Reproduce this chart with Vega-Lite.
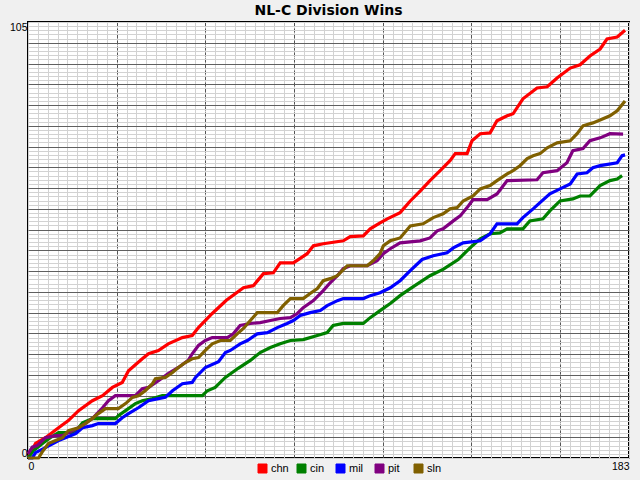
{
  "$schema": "https://vega.github.io/schema/vega-lite/v6.json",
  "width": 601,
  "height": 436,
  "autosize": {"type": "pad"},
  "padding": {"left": 9, "top": 4, "right": 11, "bottom": 5},
  "background": "#f0f0f0",
  "title": {
    "text": "NL-C Division Wins",
    "fontSize": 14,
    "fontWeight": "bold",
    "font": "DejaVu Sans",
    "color": "#000000",
    "anchor": "middle",
    "offset": 3
  },
  "config": {
    "font": "Liberation Sans",
    "view": {"fill": "#ffffff", "stroke": "#000000", "strokeWidth": 2}
  },
  "data": {
    "values": [
      {"team": "chn", "day": 0, "wins": 0}, {"team": "chn", "day": 2.3, "wins": 3.5}, {"team": "chn", "day": 5.3, "wins": 4.9},
      {"team": "chn", "day": 9.3, "wins": 7.3}, {"team": "chn", "day": 12.3, "wins": 9}, {"team": "chn", "day": 15.4, "wins": 11.4},
      {"team": "chn", "day": 19.6, "wins": 13.8}, {"team": "chn", "day": 22.7, "wins": 15}, {"team": "chn", "day": 25.7, "wins": 17},
      {"team": "chn", "day": 28.7, "wins": 18.2}, {"team": "chn", "day": 30.6, "wins": 21}, {"team": "chn", "day": 34.8, "wins": 23.9},
      {"team": "chn", "day": 36.7, "wins": 25.1}, {"team": "chn", "day": 39.7, "wins": 25.9}, {"team": "chn", "day": 42.7, "wins": 27.5},
      {"team": "chn", "day": 47, "wins": 29}, {"team": "chn", "day": 50, "wins": 29.5}, {"team": "chn", "day": 51.9, "wins": 31.4},
      {"team": "chn", "day": 56.1, "wins": 34.8}, {"team": "chn", "day": 60.4, "wins": 38}, {"team": "chn", "day": 65.6, "wins": 41},
      {"team": "chn", "day": 68.6, "wins": 41.5}, {"team": "chn", "day": 71.7, "wins": 44.4}, {"team": "chn", "day": 74.7, "wins": 44.6},
      {"team": "chn", "day": 76.8, "wins": 47}, {"team": "chn", "day": 80.8, "wins": 47}, {"team": "chn", "day": 85, "wins": 49.2},
      {"team": "chn", "day": 86.9, "wins": 51.1}, {"team": "chn", "day": 89.9, "wins": 51.6}, {"team": "chn", "day": 96, "wins": 52.3},
      {"team": "chn", "day": 98.1, "wins": 53.3}, {"team": "chn", "day": 102.1, "wins": 53.5}, {"team": "chn", "day": 104.2, "wins": 55.2},
      {"team": "chn", "day": 107.2, "wins": 56.6}, {"team": "chn", "day": 109.4, "wins": 57.6}, {"team": "chn", "day": 113.3, "wins": 59.1},
      {"team": "chn", "day": 116.4, "wins": 61.9}, {"team": "chn", "day": 119.4, "wins": 64.3}, {"team": "chn", "day": 122.4, "wins": 66.8},
      {"team": "chn", "day": 125.5, "wins": 69.2}, {"team": "chn", "day": 128.5, "wins": 71.6}, {"team": "chn", "day": 130.1, "wins": 73.3},
      {"team": "chn", "day": 133.7, "wins": 73.3}, {"team": "chn", "day": 135.2, "wins": 76.4}, {"team": "chn", "day": 137.7, "wins": 78.1},
      {"team": "chn", "day": 140.7, "wins": 78.3}, {"team": "chn", "day": 142.8, "wins": 81.2}, {"team": "chn", "day": 145.9, "wins": 82.4},
      {"team": "chn", "day": 147.7, "wins": 82.9}, {"team": "chn", "day": 150.7, "wins": 86.5}, {"team": "chn", "day": 155, "wins": 89.1},
      {"team": "chn", "day": 158.1, "wins": 89.4}, {"team": "chn", "day": 161.1, "wins": 91.5}, {"team": "chn", "day": 165.1, "wins": 93.9},
      {"team": "chn", "day": 168.1, "wins": 94.7}, {"team": "chn", "day": 171.1, "wins": 96.8}, {"team": "chn", "day": 174.2, "wins": 98.5},
      {"team": "chn", "day": 176.3, "wins": 100.9}, {"team": "chn", "day": 179.4, "wins": 101.4}, {"team": "chn", "day": 181.8, "wins": 103},

      {"team": "cin", "day": 0, "wins": 0}, {"team": "cin", "day": 1.7, "wins": 1.8}, {"team": "cin", "day": 4.7, "wins": 3.7},
      {"team": "cin", "day": 6.8, "wins": 4.9}, {"team": "cin", "day": 9.3, "wins": 6.1}, {"team": "cin", "day": 13.5, "wins": 6.1},
      {"team": "cin", "day": 15.4, "wins": 7.3}, {"team": "cin", "day": 16.6, "wins": 8.5}, {"team": "cin", "day": 19.6, "wins": 9.5},
      {"team": "cin", "day": 26.6, "wins": 9.5}, {"team": "cin", "day": 27.5, "wins": 10.2}, {"team": "cin", "day": 29.7, "wins": 11.4},
      {"team": "cin", "day": 32.7, "wins": 13.1}, {"team": "cin", "day": 34.8, "wins": 13.8}, {"team": "cin", "day": 37.9, "wins": 14.3},
      {"team": "cin", "day": 40.9, "wins": 15}, {"team": "cin", "day": 53.1, "wins": 15}, {"team": "cin", "day": 54.6, "wins": 16.2},
      {"team": "cin", "day": 57, "wins": 17}, {"team": "cin", "day": 60.1, "wins": 19.4}, {"team": "cin", "day": 64, "wins": 21.6},
      {"team": "cin", "day": 67.7, "wins": 23.5}, {"team": "cin", "day": 70.7, "wins": 25.4}, {"team": "cin", "day": 73.8, "wins": 26.6},
      {"team": "cin", "day": 76.8, "wins": 27.5}, {"team": "cin", "day": 79.9, "wins": 28.3}, {"team": "cin", "day": 83.8, "wins": 28.5},
      {"team": "cin", "day": 88.1, "wins": 29.5}, {"team": "cin", "day": 91.1, "wins": 30.2}, {"team": "cin", "day": 92.9, "wins": 31.9},
      {"team": "cin", "day": 96, "wins": 32.4}, {"team": "cin", "day": 102.1, "wins": 32.4}, {"team": "cin", "day": 104.2, "wins": 33.8},
      {"team": "cin", "day": 107.2, "wins": 35.5}, {"team": "cin", "day": 110.3, "wins": 37.2}, {"team": "cin", "day": 113.3, "wins": 39.1},
      {"team": "cin", "day": 116.4, "wins": 40.8}, {"team": "cin", "day": 122.4, "wins": 43.9}, {"team": "cin", "day": 126.5, "wins": 45.5},
      {"team": "cin", "day": 131, "wins": 47.8}, {"team": "cin", "day": 134.6, "wins": 50.6}, {"team": "cin", "day": 137.7, "wins": 52.8},
      {"team": "cin", "day": 140.7, "wins": 54}, {"team": "cin", "day": 143.7, "wins": 54.2}, {"team": "cin", "day": 145.9, "wins": 55.2},
      {"team": "cin", "day": 150.7, "wins": 55.2}, {"team": "cin", "day": 152.8, "wins": 57.1}, {"team": "cin", "day": 156.8, "wins": 57.6},
      {"team": "cin", "day": 158.9, "wins": 59.5}, {"team": "cin", "day": 162, "wins": 61.9}, {"team": "cin", "day": 165.9, "wins": 62.4},
      {"team": "cin", "day": 168.1, "wins": 63.1}, {"team": "cin", "day": 171.1, "wins": 63.1}, {"team": "cin", "day": 174.2, "wins": 65.6},
      {"team": "cin", "day": 177.2, "wins": 66.8}, {"team": "cin", "day": 179.4, "wins": 67.2}, {"team": "cin", "day": 180.9, "wins": 68},

      {"team": "mil", "day": 0, "wins": 0}, {"team": "mil", "day": 1.3, "wins": 0}, {"team": "mil", "day": 2.3, "wins": 1.3},
      {"team": "mil", "day": 5.3, "wins": 2.5}, {"team": "mil", "day": 9.3, "wins": 4.2}, {"team": "mil", "day": 11.4, "wins": 4.9},
      {"team": "mil", "day": 14.5, "wins": 5.9}, {"team": "mil", "day": 16.6, "wins": 7.3}, {"team": "mil", "day": 19.6, "wins": 7.8},
      {"team": "mil", "day": 21.4, "wins": 8.3}, {"team": "mil", "day": 26.6, "wins": 8.3}, {"team": "mil", "day": 28.7, "wins": 9.7},
      {"team": "mil", "day": 30.6, "wins": 10.7}, {"team": "mil", "day": 33.6, "wins": 12.1}, {"team": "mil", "day": 36.7, "wins": 13.8},
      {"team": "mil", "day": 39.7, "wins": 14.3}, {"team": "mil", "day": 41.8, "wins": 14.6}, {"team": "mil", "day": 44, "wins": 16.2},
      {"team": "mil", "day": 47, "wins": 17.9}, {"team": "mil", "day": 50, "wins": 18.2}, {"team": "mil", "day": 51, "wins": 19.4},
      {"team": "mil", "day": 54, "wins": 21.8}, {"team": "mil", "day": 58, "wins": 23.2}, {"team": "mil", "day": 60.1, "wins": 25.4},
      {"team": "mil", "day": 61.6, "wins": 25.9}, {"team": "mil", "day": 64.6, "wins": 27.5}, {"team": "mil", "day": 66.8, "wins": 28.3},
      {"team": "mil", "day": 69.8, "wins": 29.9}, {"team": "mil", "day": 72.9, "wins": 30.2}, {"team": "mil", "day": 75.9, "wins": 31.4},
      {"team": "mil", "day": 78.9, "wins": 32.4}, {"team": "mil", "day": 80.8, "wins": 33.1}, {"team": "mil", "day": 82.9, "wins": 34.3},
      {"team": "mil", "day": 85.9, "wins": 35}, {"team": "mil", "day": 89, "wins": 35.5}, {"team": "mil", "day": 91.1, "wins": 36.7},
      {"team": "mil", "day": 94.2, "wins": 37.9}, {"team": "mil", "day": 96, "wins": 38.4}, {"team": "mil", "day": 102.1, "wins": 38.4},
      {"team": "mil", "day": 104.2, "wins": 39.1}, {"team": "mil", "day": 107.2, "wins": 39.8}, {"team": "mil", "day": 110.3, "wins": 41},
      {"team": "mil", "day": 113.3, "wins": 42.7}, {"team": "mil", "day": 116.4, "wins": 45.1}, {"team": "mil", "day": 120, "wins": 47.8},
      {"team": "mil", "day": 123.4, "wins": 48.7}, {"team": "mil", "day": 127.6, "wins": 49.4}, {"team": "mil", "day": 129.5, "wins": 50.6},
      {"team": "mil", "day": 132.5, "wins": 51.8}, {"team": "mil", "day": 137.7, "wins": 52.3}, {"team": "mil", "day": 140.7, "wins": 54},
      {"team": "mil", "day": 142.8, "wins": 56.4}, {"team": "mil", "day": 148.9, "wins": 56.4}, {"team": "mil", "day": 150.7, "wins": 57.9},
      {"team": "mil", "day": 153.8, "wins": 60}, {"team": "mil", "day": 155.9, "wins": 61.5}, {"team": "mil", "day": 158.9, "wins": 63.6},
      {"team": "mil", "day": 162, "wins": 64.8}, {"team": "mil", "day": 165.1, "wins": 66}, {"team": "mil", "day": 167.2, "wins": 68.4},
      {"team": "mil", "day": 170.2, "wins": 68.7}, {"team": "mil", "day": 172, "wins": 69.9}, {"team": "mil", "day": 174.2, "wins": 70.4},
      {"team": "mil", "day": 179.4, "wins": 71.1}, {"team": "mil", "day": 180.9, "wins": 72.8}, {"team": "mil", "day": 181.8, "wins": 73},

      {"team": "pit", "day": 0, "wins": 1}, {"team": "pit", "day": 1.3, "wins": 2.6}, {"team": "pit", "day": 2.8, "wins": 3},
      {"team": "pit", "day": 5.3, "wins": 4.9}, {"team": "pit", "day": 8.4, "wins": 5.4}, {"team": "pit", "day": 10.5, "wins": 5.4},
      {"team": "pit", "day": 15.4, "wins": 7.3}, {"team": "pit", "day": 17.5, "wins": 8.3}, {"team": "pit", "day": 19.6, "wins": 9.5},
      {"team": "pit", "day": 22.7, "wins": 12.1}, {"team": "pit", "day": 24.5, "wins": 13.8}, {"team": "pit", "day": 26.6, "wins": 15},
      {"team": "pit", "day": 32.7, "wins": 15}, {"team": "pit", "day": 34.8, "wins": 16.7}, {"team": "pit", "day": 36.7, "wins": 17},
      {"team": "pit", "day": 39.7, "wins": 18.6}, {"team": "pit", "day": 42.7, "wins": 20.3}, {"team": "pit", "day": 45.8, "wins": 21.8},
      {"team": "pit", "day": 48.8, "wins": 23.5}, {"team": "pit", "day": 50, "wins": 25.1}, {"team": "pit", "day": 51.9, "wins": 27.1},
      {"team": "pit", "day": 54, "wins": 28.3}, {"team": "pit", "day": 56.1, "wins": 29}, {"team": "pit", "day": 60.7, "wins": 29},
      {"team": "pit", "day": 62.5, "wins": 29.9}, {"team": "pit", "day": 64.6, "wins": 31.9}, {"team": "pit", "day": 67.7, "wins": 32.4},
      {"team": "pit", "day": 70.7, "wins": 32.6}, {"team": "pit", "day": 73.8, "wins": 33.1}, {"team": "pit", "day": 76.8, "wins": 33.6},
      {"team": "pit", "day": 79.9, "wins": 33.8}, {"team": "pit", "day": 82, "wins": 34.8}, {"team": "pit", "day": 83.8, "wins": 36.2},
      {"team": "pit", "day": 86.9, "wins": 37.9}, {"team": "pit", "day": 89.9, "wins": 40.3}, {"team": "pit", "day": 92, "wins": 42.2},
      {"team": "pit", "day": 94.2, "wins": 43.9}, {"team": "pit", "day": 96, "wins": 45.6}, {"team": "pit", "day": 98.1, "wins": 46.3},
      {"team": "pit", "day": 103.3, "wins": 46.3}, {"team": "pit", "day": 106.3, "wins": 47.5}, {"team": "pit", "day": 108.2, "wins": 49.2},
      {"team": "pit", "day": 110.3, "wins": 50.4}, {"team": "pit", "day": 113.3, "wins": 51.8}, {"team": "pit", "day": 119.4, "wins": 52.3},
      {"team": "pit", "day": 122.4, "wins": 53}, {"team": "pit", "day": 124.6, "wins": 54.7}, {"team": "pit", "day": 126.4, "wins": 55.2},
      {"team": "pit", "day": 129.5, "wins": 57.1}, {"team": "pit", "day": 131.6, "wins": 58.3}, {"team": "pit", "day": 133.7, "wins": 60.3},
      {"team": "pit", "day": 135.5, "wins": 62.2}, {"team": "pit", "day": 139.8, "wins": 62.2}, {"team": "pit", "day": 142.8, "wins": 63.6},
      {"team": "pit", "day": 145.9, "wins": 66.8}, {"team": "pit", "day": 155, "wins": 67}, {"team": "pit", "day": 156.8, "wins": 68.7},
      {"team": "pit", "day": 161.1, "wins": 69.2}, {"team": "pit", "day": 164.1, "wins": 71.1}, {"team": "pit", "day": 165.9, "wins": 74},
      {"team": "pit", "day": 169, "wins": 74.5}, {"team": "pit", "day": 171.1, "wins": 76.4}, {"team": "pit", "day": 174.2, "wins": 77.1},
      {"team": "pit", "day": 177.2, "wins": 78.1}, {"team": "pit", "day": 181.2, "wins": 78},

      {"team": "sln", "day": 0, "wins": 0}, {"team": "sln", "day": 3.2, "wins": 0}, {"team": "sln", "day": 4.3, "wins": 1.4},
      {"team": "sln", "day": 6.2, "wins": 3.5}, {"team": "sln", "day": 8.4, "wins": 4.2}, {"team": "sln", "day": 10.5, "wins": 4.9},
      {"team": "sln", "day": 12.3, "wins": 6.6}, {"team": "sln", "day": 15.4, "wins": 7.3}, {"team": "sln", "day": 17.5, "wins": 8.3},
      {"team": "sln", "day": 19.6, "wins": 9.5}, {"team": "sln", "day": 21.4, "wins": 10.7}, {"team": "sln", "day": 23.6, "wins": 11.9},
      {"team": "sln", "day": 27.5, "wins": 11.9}, {"team": "sln", "day": 29.7, "wins": 13.1}, {"team": "sln", "day": 31.8, "wins": 14.6},
      {"team": "sln", "day": 33.6, "wins": 15}, {"team": "sln", "day": 35.7, "wins": 16.2}, {"team": "sln", "day": 37.9, "wins": 17.9},
      {"team": "sln", "day": 38.8, "wins": 19.1}, {"team": "sln", "day": 41.8, "wins": 19.4}, {"team": "sln", "day": 44, "wins": 20.6},
      {"team": "sln", "day": 45.8, "wins": 21.8}, {"team": "sln", "day": 47.9, "wins": 23}, {"team": "sln", "day": 50, "wins": 23.9},
      {"team": "sln", "day": 51.9, "wins": 24.2}, {"team": "sln", "day": 54, "wins": 25.9}, {"team": "sln", "day": 56.1, "wins": 27.5},
      {"team": "sln", "day": 58.6, "wins": 28.3}, {"team": "sln", "day": 61.6, "wins": 28.3}, {"team": "sln", "day": 63.7, "wins": 29.9},
      {"team": "sln", "day": 65.6, "wins": 31.2}, {"team": "sln", "day": 67.7, "wins": 33.1}, {"team": "sln", "day": 69.8, "wins": 35},
      {"team": "sln", "day": 75.9, "wins": 35}, {"team": "sln", "day": 77.7, "wins": 36.7}, {"team": "sln", "day": 79.9, "wins": 38.4},
      {"team": "sln", "day": 83.8, "wins": 38.4}, {"team": "sln", "day": 85.9, "wins": 39.6}, {"team": "sln", "day": 88.1, "wins": 40.8},
      {"team": "sln", "day": 89.9, "wins": 42.7}, {"team": "sln", "day": 92, "wins": 43.2}, {"team": "sln", "day": 94.2, "wins": 43.9},
      {"team": "sln", "day": 97.2, "wins": 46.3}, {"team": "sln", "day": 103.3, "wins": 46.3}, {"team": "sln", "day": 105.1, "wins": 47.5},
      {"team": "sln", "day": 107.2, "wins": 49.2}, {"team": "sln", "day": 108.2, "wins": 51.1}, {"team": "sln", "day": 110.3, "wins": 52.3},
      {"team": "sln", "day": 113.3, "wins": 53}, {"team": "sln", "day": 116.4, "wins": 55.9}, {"team": "sln", "day": 120.3, "wins": 56.4},
      {"team": "sln", "day": 123.4, "wins": 57.9}, {"team": "sln", "day": 126.4, "wins": 58.8}, {"team": "sln", "day": 128.5, "wins": 60},
      {"team": "sln", "day": 130.7, "wins": 60.3}, {"team": "sln", "day": 132.5, "wins": 61.9}, {"team": "sln", "day": 135.5, "wins": 63.1},
      {"team": "sln", "day": 137.7, "wins": 64.8}, {"team": "sln", "day": 140.7, "wins": 65.6}, {"team": "sln", "day": 142.8, "wins": 66.8},
      {"team": "sln", "day": 145.9, "wins": 68.4}, {"team": "sln", "day": 147.7, "wins": 69.2}, {"team": "sln", "day": 149.8, "wins": 70.4},
      {"team": "sln", "day": 152, "wins": 72.1}, {"team": "sln", "day": 153.8, "wins": 72.8}, {"team": "sln", "day": 155.9, "wins": 73.3},
      {"team": "sln", "day": 158.1, "wins": 74.7}, {"team": "sln", "day": 161.1, "wins": 75.9}, {"team": "sln", "day": 165.1, "wins": 76.4},
      {"team": "sln", "day": 167.2, "wins": 78.1}, {"team": "sln", "day": 169, "wins": 80}, {"team": "sln", "day": 172, "wins": 80.7},
      {"team": "sln", "day": 174.2, "wins": 81.4}, {"team": "sln", "day": 177.2, "wins": 82.4}, {"team": "sln", "day": 179.4, "wins": 83.6},
      {"team": "sln", "day": 181.8, "wins": 86}
    ]
  },
  "resolve": {"axis": {"x": "independent", "y": "independent"}},
  "layer": [
    {
      "mark": {"type": "line", "opacity": 0},
      "encoding": {
        "x": {
          "field": "day",
          "type": "quantitative",
          "scale": {"domain": [0, 183], "nice": false, "zero": false},
          "axis": {
            "orient": "bottom",
            "title": null,
            "values": [0, 3, 6, 9, 12, 15, 18, 21, 24, 27, 30, 33, 36, 39, 42, 45, 48, 51, 54, 57, 60, 63, 66, 69, 72, 75, 78, 81, 84, 87, 90, 93, 96, 99, 102, 105, 108, 111, 114, 117, 120, 123, 126, 129, 132, 135, 138, 141, 144, 147, 150, 153, 156, 159, 162, 165, 168, 171, 174, 177, 180, 183],
            "grid": true,
            "gridColor": "#d2d2d2",
            "gridOpacity": 1,
            "gridWidth": 1,
            "ticks": false,
            "domain": false,
            "labelFlush": true,
            "labelOverlap": false,
            "labelExpr": "datum.value == 0 || datum.value == 183 ? datum.label : ''",
            "labelPadding": 3,
            "labelFontSize": 10.5,
            "labelColor": "#000000"
          }
        },
        "y": {
          "field": "wins",
          "type": "quantitative",
          "scale": {"domain": [0, 105], "nice": false, "zero": false},
          "axis": {
            "orient": "left",
            "title": null,
            "tickCount": 105,
            "grid": true,
            "gridColor": "#d2d2d2",
            "gridOpacity": 1,
            "gridWidth": 1,
            "ticks": false,
            "domain": false,
            "labelFlush": true,
            "labelOverlap": false,
            "labelExpr": "datum.value == 0 || datum.value == 105 ? datum.label : ''",
            "labelPadding": 1,
            "labelFontSize": 10.5,
            "labelColor": "#000000"
          }
        },
        "detail": {"field": "team", "type": "nominal"}
      }
    },
    {
      "mark": {"type": "line", "strokeWidth": 3.2},
      "encoding": {
        "x": {
          "field": "day",
          "type": "quantitative",
          "scale": {"domain": [0, 183], "nice": false, "zero": false},
          "axis": {
            "orient": "bottom",
            "title": null,
            "values": [27, 54, 81, 108, 135, 162],
            "grid": true,
            "gridColor": "#555555",
            "gridOpacity": 1,
            "gridDash": [4, 2],
            "labels": false,
            "ticks": false,
            "domain": false
          }
        },
        "y": {
          "field": "wins",
          "type": "quantitative",
          "scale": {"domain": [0, 105], "nice": false, "zero": false},
          "axis": {
            "orient": "left",
            "title": null,
            "values": [5, 10, 15, 20, 25, 30, 35, 40, 45, 50, 55, 60, 65, 70, 75, 80, 85, 90, 95, 100],
            "grid": true,
            "gridColor": "#606060",
            "gridOpacity": 1,
            "labels": false,
            "ticks": false,
            "domain": false
          }
        },
        "color": {
          "field": "team",
          "type": "nominal",
          "scale": {
            "domain": ["chn", "cin", "mil", "pit", "sln"],
            "range": ["#ff0000", "#008000", "#0000ff", "#800080", "#806000"]
          },
          "legend": {
            "title": null,
            "orient": "none",
            "direction": "horizontal",
            "legendX": 229,
            "legendY": 441,
            "symbolType": "square",
            "symbolSize": 81,
            "labelFontSize": 11,
            "labelColor": "#000000",
            "labelOffset": 3,
            "columnPadding": 6,
            "gridAlign": "all",
            "encode": {
              "symbols": {
                "update": {
                  "fill": {"scale": "color", "field": "value"},
                  "stroke": {"value": "#000000"},
                  "strokeWidth": {"value": 1},
                  "opacity": {"value": 1}
                }
              }
            }
          }
        }
      }
    }
  ]
}
